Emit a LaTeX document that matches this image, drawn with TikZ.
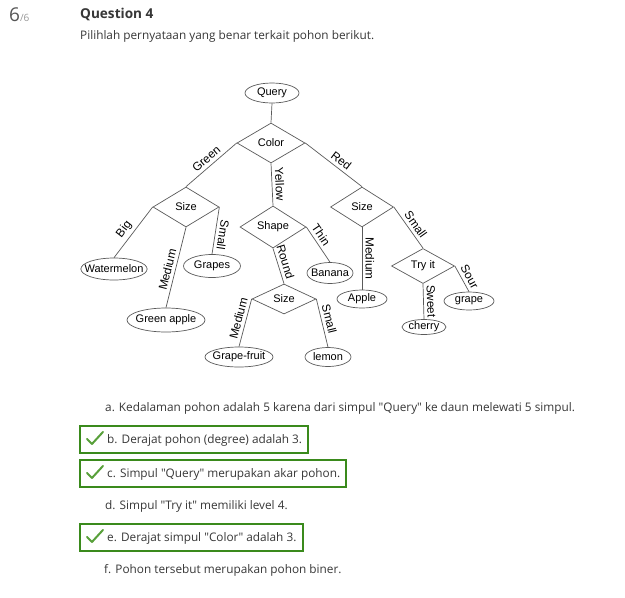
\documentclass[tikz,border=0pt]{standalone}
\usepackage{fontspec}
\setmainfont{Open Sans}
\newfontfamily\treefont{Liberation Sans}
\usetikzlibrary{shapes.geometric, calc}

\definecolor{bodytext}{HTML}{373737}
\definecolor{scoregray}{HTML}{555555}
\definecolor{fadegray}{HTML}{999999}
\definecolor{okgreen}{HTML}{3A8A1C}
\definecolor{tickgreen}{HTML}{58A03A}
\definecolor{treegray}{HTML}{5A5A5A}

\tikzset{
  treetext/.style={font=\treefont\fontsize{11}{12}\selectfont},
  leaf/.style={treetext, draw=treegray, line width=0.7pt, ellipse, inner xsep=-6pt, inner ysep=0pt},
  decision/.style={treetext, draw=treegray, line width=0.7pt, diamond, inner sep=0pt, minimum width=66pt, minimum height=40pt},
  branch/.style={draw=treegray, line width=0.7pt},
  blabel/.style={font=\treefont\fontsize{11.8}{12}\selectfont, sloped, above, inner sep=3.2pt},
  optline/.style={anchor=base west, text=bodytext, inner sep=0pt, font=\fontsize{11.8}{14}\selectfont},
  okbox/.style={draw=okgreen, line width=2pt},
  tick/.style={draw=tickgreen, line width=2pt, line cap=round, line join=round}
}

\begin{document}
\begin{tikzpicture}[x=1pt, y=-1pt]
\useasboundingbox[fill=white] (0,0) rectangle (625,598);

% Header
\node[anchor=base west, inner sep=0pt, text=scoregray] (score) at (9,21)
  {\fontsize{19}{20}\selectfont 6{\color{fadegray}\fontsize{10}{12}\selectfont /6}};
\node[anchor=base west, inner sep=0pt, text=bodytext, font=\bfseries\fontsize{13.6}{18}\selectfont] (qtitle) at (80,18) {Question 4};
\node[optline] (prompt) at (80,39) {Pilihlah pernyataan yang benar terkait pohon berikut.};

% Tree: test nodes
\node[leaf, minimum width=54pt, minimum height=20pt] (query) at (272,93) {Query};
\node[decision, minimum width=68pt] (color) at (271,143) {Color};
\node[decision] (size1) at (186,207) {Size};
\node[decision, minimum height=38pt] (shape) at (273,227) {Shape};
\node[decision, minimum width=63pt] (size2) at (362,207) {Size};
\node[decision, minimum width=64pt, minimum height=30pt] (size3) at (284,299) {Size};
\node[decision, minimum width=63pt, minimum height=35pt] (tryit) at (423,266) {Try it};

% Tree: leaves
\node[leaf, minimum width=66pt, minimum height=22pt] (watermelon) at (114,269) {Watermelon};
\node[leaf, minimum width=78pt, minimum height=24pt] (greenapple) at (166,320) {Green apple};
\node[leaf, minimum width=57pt, minimum height=23pt] (grapes) at (212,266) {Grapes};
\node[leaf, minimum width=46pt, minimum height=21pt] (banana) at (330,273) {Banana};
\node[leaf, minimum width=68pt, minimum height=20pt] (grapefruit) at (239,357) {Grape-fruit};
\node[leaf, minimum width=46pt, minimum height=19pt] (lemon) at (328,357) {lemon};
\node[leaf, minimum width=50pt, minimum height=18pt] (apple) at (362,299) {Apple};
\node[leaf, minimum width=44pt, minimum height=15pt] (cherry) at (424,327) {cherry};
\node[leaf, minimum width=50pt, minimum height=18pt] (grape) at (469,301) {grape};

% Tree: branches
\draw[branch] (query.south) -- (color.north);
\draw[branch] (color.west) -- node[blabel] (lgreen) {Green} (size1.north);
\draw[branch] (color.south) -- node[blabel, allow upside down] (lyellow) {Yellow} (shape.north);
\draw[branch] (color.east) -- node[blabel, pos=.55] (lred) {Red} (size2.north);
\draw[branch] (size1.west) -- node[blabel, pos=.55] (lbig) {Big} (watermelon.north);
\draw[branch] (size1.south) -- node[blabel, pos=.55] (lmedium1) {Medium} (greenapple.north);
\draw[branch] (size1.east) -- node[blabel, pos=.57, allow upside down] (lsmall1) {Small} (grapes.north);
\draw[branch] (shape.east) -- node[blabel, pos=.35] (lthin) {Thin} (banana.north);
\draw[branch] (shape.south) -- node[blabel, pos=.45] (lround) {Round} (size3.north);
\draw[branch] (size3.west) -- node[blabel, pos=.45] (lmedium3) {Medium} (grapefruit.north);
\draw[branch] (size3.east) -- node[blabel, pos=.45] (lsmall3) {Small} (lemon.north);
\draw[branch] (size2.south) -- node[blabel, allow upside down] (lmedium2) {Medium} (apple.north);
\draw[branch] (size2.east) -- node[blabel, pos=.53] (lsmall2) {Small} (tryit.north);
\draw[branch] (tryit.south) -- node[blabel, allow upside down] (lsweet) {Sweet} (cherry.north);
\draw[branch] (tryit.east) -- node[blabel, pos=.57] (lsour) {Sour} (grape.north);

% Answer options
\node[optline] (opta) at (105,411) {a. Kedalaman pohon adalah 5 karena dari simpul \textquotedbl Query\textquotedbl{} ke daun melewati 5 simpul.};
\node[optline] (optb) at (107,443) {b. Derajat pohon (degree) adalah 3.};
\node[optline] (optc) at (107,477) {c. Simpul \textquotedbl Query\textquotedbl{} merupakan akar pohon.};
\node[optline] (optd) at (105,509) {d. Simpul \textquotedbl Try it\textquotedbl{} memiliki level 4.};
\node[optline] (opte) at (107,541) {e. Derajat simpul \textquotedbl Color\textquotedbl{} adalah 3.};
\node[optline] (optf) at (104,573) {f. Pohon tersebut merupakan pohon biner.};

% Correct ones
\foreach \o in {optb, optc, opte} {
  \draw[okbox] ($(\o.west)+(-27,-13.5)$) rectangle ($(\o.east)+(6,13.5)$);
  \draw[tick] ($(\o.west)+(-20,-1)$) -- ++(5,5) -- ++(11,-12);
}
\end{tikzpicture}
\end{document}
